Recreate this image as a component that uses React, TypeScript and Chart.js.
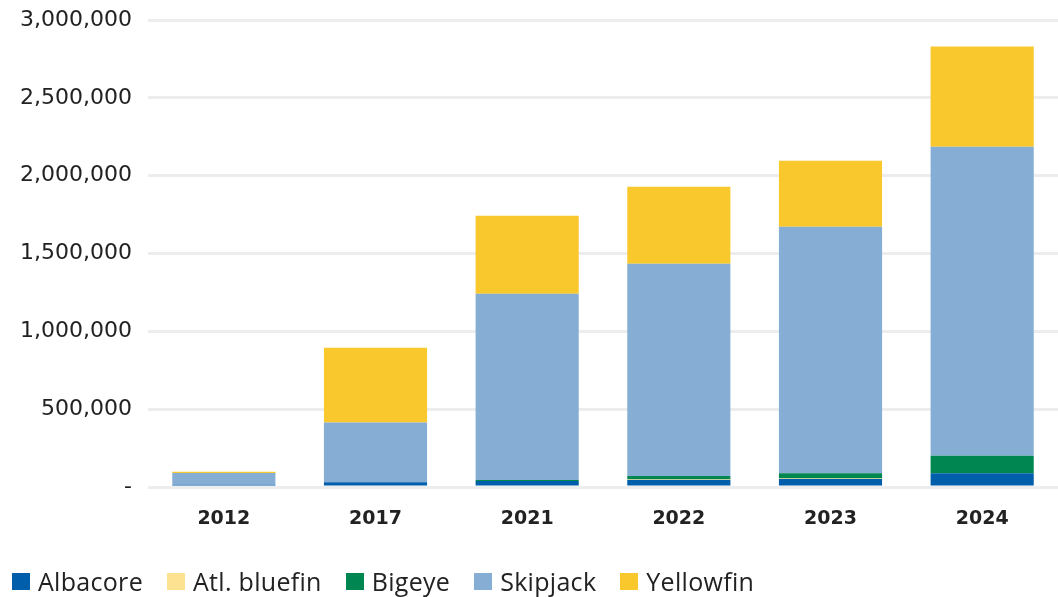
import React, { useEffect, useRef } from "react";
import { Chart, registerables } from "chart.js";

Chart.register(...registerables);

const years = ["2012", "2017", "2021", "2022", "2023", "2024"];
const albacore = [15000, 30000, 39000, 45000, 51000, 88000];
const atlBluefin = [0, 0, 0, 3000, 3000, 0];
const bigeye = [0, 0, 6000, 23000, 34000, 113000];
const skipjack = [75000, 385000, 1196000, 1363000, 1584000, 1985000];
const yellowfin = [8000, 479000, 502000, 495000, 424000, 644000];

const yTicks = [0, 500000, 1000000, 1500000, 2000000, 2500000, 3000000];

const seriesNames = ["Albacore", "Atl. bluefin", "Bigeye", "Skipjack", "Yellowfin"];
const seriesColors = ["#005EAA", "#FDE291", "#008651", "#86AED5", "#F8C82D"];
const seriesData = [albacore, atlBluefin, bigeye, skipjack, yellowfin];

export default function App() {
  const ref = useRef<HTMLCanvasElement>(null);
  useEffect(() => {
    document.body.style.margin = "0";
    const ctx = ref.current!;
    const chart = new Chart(ctx, {
      type: "bar",
      data: {
        labels: years,
        datasets: seriesNames.map((label, i) => ({
          label,
          data: seriesData[i],
          backgroundColor: seriesColors[i],
          borderWidth: 0,
          barPercentage: 0.68,
          categoryPercentage: 1.0,
        })),
      },
      options: {
        animation: false,
        responsive: false,
        maintainAspectRatio: false,
        layout: { padding: { top: 0, left: 10, right: -2, bottom: 0 } },
        plugins: {
          tooltip: { enabled: false },
          legend: { display: false },
        },
        scales: {
          x: {
            stacked: true,
            grid: { display: false, drawTicks: false },
            border: { display: false },
            afterFit: (s: any) => {
              s.height = 110;
            },
            ticks: {
              color: "#222",
              padding: 21,
              maxRotation: 0,
              font: { family: "'DejaVu Sans', sans-serif", size: 19, weight: "bold" },
            },
          },
          y: {
            stacked: true,
            min: 0,
            max: 3000000,
            afterBuildTicks: (axis: any) => {
              axis.ticks = yTicks.map((v) => ({ value: v }));
            },
            afterFit: (s: any) => {
              s.width = 138;
              s.paddingTop = 20;
            },
            grid: { color: "#EDEDED", lineWidth: 3, drawTicks: false },
            border: { display: false },
            ticks: {
              color: "#222",
              padding: 16,
              font: { family: "'DejaVu Sans', sans-serif", size: 22 },
              callback: (v: any) => (Number(v) === 0 ? "-" : Number(v).toLocaleString("en-US")),
            },
          },
        },
      },
    });
    return () => chart.destroy();
  }, []);
  return (
    <div style={{ width: 1058, height: 597, position: "relative", background: "#fff" }}>
      <canvas ref={ref} width={1058} height={597} style={{ display: "block" }} />
      <div
        style={{
          position: "absolute",
          left: 12,
          top: 568,
          display: "flex",
          alignItems: "center",
          fontFamily: "'Open Sans', sans-serif",
          fontSize: 25,
          letterSpacing: "0.3px",
          color: "#222",
          lineHeight: "27px",
        }}
      >
        {seriesNames.map((n, i) => (
          <div key={n} style={{ display: "flex", alignItems: "center", marginRight: 24 }}>
            <span
              style={{
                display: "inline-block",
                width: 18,
                height: 17,
                background: seriesColors[i],
                marginRight: 8,
              }}
            />
            <span>{n}</span>
          </div>
        ))}
      </div>
    </div>
  );
}
